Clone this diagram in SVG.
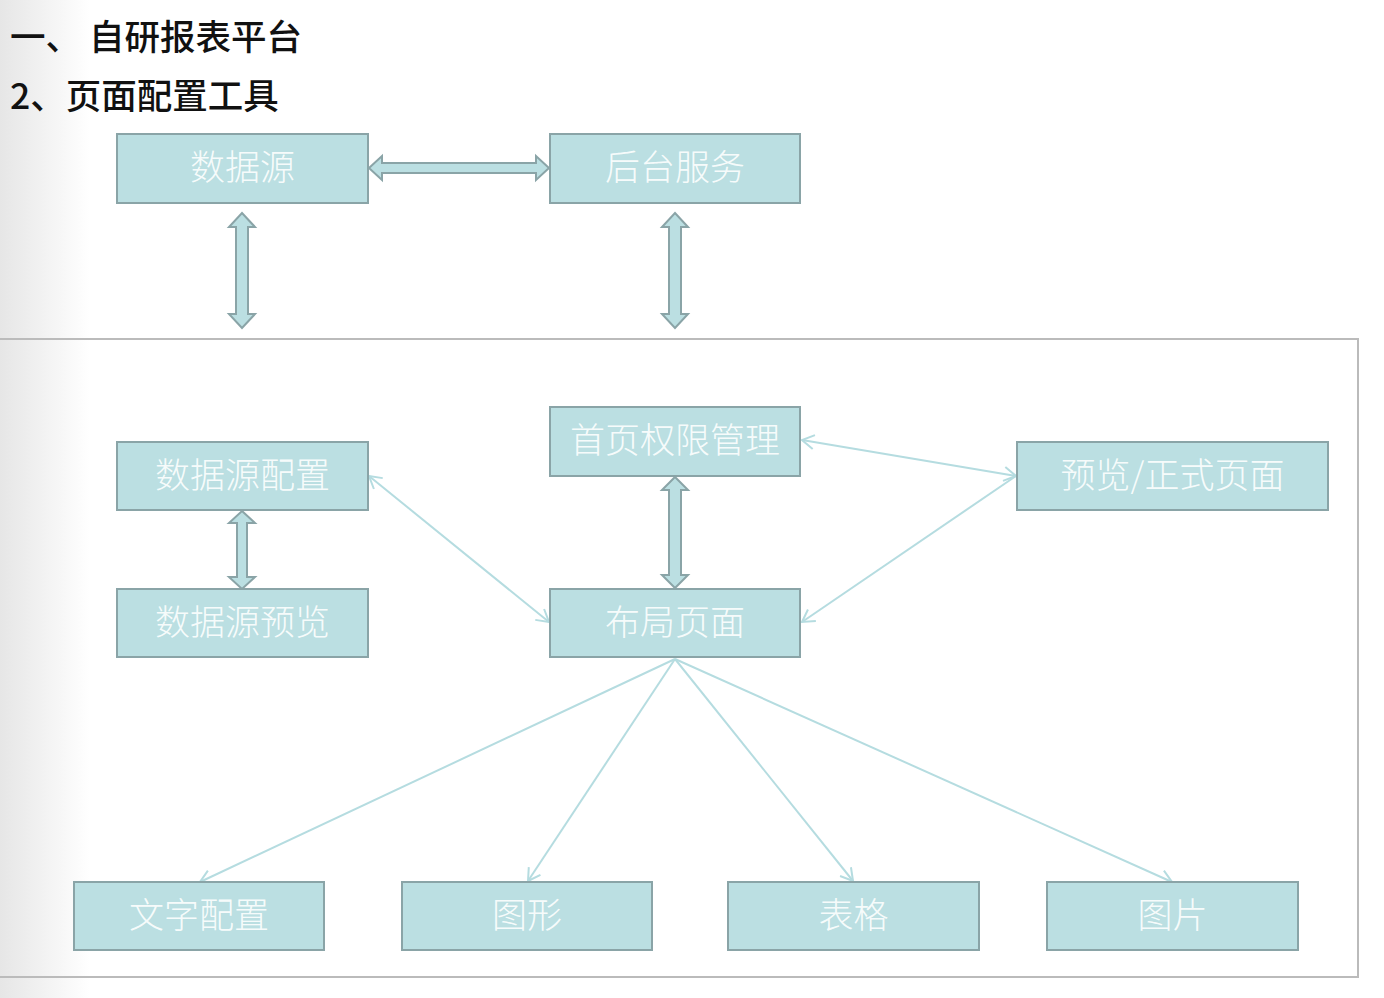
<svg xmlns="http://www.w3.org/2000/svg" width="1384" height="998" viewBox="0 0 1384 998">
<defs>
<linearGradient id="edge" x1="0" y1="0" x2="1" y2="0">
<stop offset="0" stop-color="#e6e6e6"/>
<stop offset="1" stop-color="#ffffff"/>
</linearGradient>
<marker id="open" markerUnits="userSpaceOnUse" markerWidth="16" markerHeight="16" viewBox="0 0 16 16" refX="14" refY="8" orient="auto-start-reverse">
<path d="M2,1 L14,8 L2,15" fill="none" stroke="#b5dce0" stroke-width="2"/>
</marker>
<style>
.box{fill:#bbdfe2;stroke:#8aa4a7;stroke-width:2}
.lbl{font-family:"Noto Sans CJK SC","Noto Sans",sans-serif;font-size:35px;font-weight:300;fill:#ffffff;fill-opacity:0.9;text-anchor:middle}
.ttl{font-family:"Noto Sans CJK SC","Liberation Sans",sans-serif;font-size:35.5px;font-weight:500;fill:#111111}
.blk{fill:#bbdfe2;stroke:#8aa4a7;stroke-width:2;stroke-linejoin:miter}
.thin{fill:none;stroke:#b5dce0;stroke-width:2}
</style>
</defs>
<rect x="0" y="0" width="1384" height="998" fill="#ffffff"/>
<rect x="0" y="0" width="90" height="998" fill="url(#edge)"/>
<rect x="-2" y="339" width="1360" height="638" fill="none" stroke="#bbbbbb" stroke-width="2"/>
<text class="ttl" x="10" y="50">一、 自研报表平台</text>
<text class="ttl" x="10" y="109">2、页面配置工具</text>
<g id="connectors">
<path class="blk" d="M369,168 L382,156 L382,163 L536,163 L536,156 L549,168 L536,180 L536,173 L382,173 L382,180 Z"/>
<path class="blk" d="M242,213 L255,227 L248,227 L248,314 L255,314 L242,328 L229,314 L236,314 L236,227 L229,227 Z"/>
<path class="blk" d="M675,213 L688,227 L681,227 L681,314 L688,314 L675,328 L662,314 L669,314 L669,227 L662,227 Z"/>
<path class="blk" d="M242,511 L255,523 L247,523 L247,577 L255,577 L242,589 L229,577 L237,577 L237,523 L229,523 Z"/>
<path class="blk" d="M675,477 L688,490 L681,490 L681,575 L688,575 L675,588 L662,575 L669,575 L669,490 L662,490 Z"/>
<line class="thin" x1="369" y1="476" x2="549" y2="622" marker-start="url(#open)" marker-end="url(#open)"/>
<line class="thin" x1="802" y1="440" x2="1016" y2="476" marker-start="url(#open)" marker-end="url(#open)"/>
<line class="thin" x1="1016" y1="476" x2="802" y2="622" marker-end="url(#open)"/>
<line class="thin" x1="675" y1="659" x2="200" y2="882" marker-end="url(#open)"/>
<line class="thin" x1="675" y1="659" x2="528" y2="881" marker-end="url(#open)"/>
<line class="thin" x1="675" y1="659" x2="853" y2="881" marker-end="url(#open)"/>
<line class="thin" x1="675" y1="659" x2="1172" y2="882" marker-end="url(#open)"/>
</g>
<g id="n-datasource"><rect class="box" x="117" y="134" width="251" height="69"/><text class="lbl" x="242.5" y="180">数据源</text></g>
<g id="n-backend"><rect class="box" x="550" y="134" width="250" height="69"/><text class="lbl" x="675" y="180">后台服务</text></g>
<g id="n-perm"><rect class="box" x="550" y="407" width="250" height="69"/><text class="lbl" x="675" y="453">首页权限管理</text></g>
<g id="n-dsconfig"><rect class="box" x="117" y="442" width="251" height="68"/><text class="lbl" x="242.5" y="488">数据源配置</text></g>
<g id="n-preview"><rect class="box" x="1017" y="442" width="311" height="68"/><text class="lbl" x="1172.5" y="488">预览/正式页面</text></g>
<g id="n-dspreview"><rect class="box" x="117" y="589" width="251" height="68"/><text class="lbl" x="242.5" y="635">数据源预览</text></g>
<g id="n-layout"><rect class="box" x="550" y="589" width="250" height="68"/><text class="lbl" x="675" y="635">布局页面</text></g>
<g id="n-text"><rect class="box" x="74" y="882" width="250" height="68"/><text class="lbl" x="199" y="928">文字配置</text></g>
<g id="n-chart"><rect class="box" x="402" y="882" width="250" height="68"/><text class="lbl" x="527" y="928">图形</text></g>
<g id="n-table"><rect class="box" x="728" y="882" width="251" height="68"/><text class="lbl" x="853.5" y="928">表格</text></g>
<g id="n-image"><rect class="box" x="1047" y="882" width="251" height="68"/><text class="lbl" x="1172.5" y="928">图片</text></g>
</svg>
